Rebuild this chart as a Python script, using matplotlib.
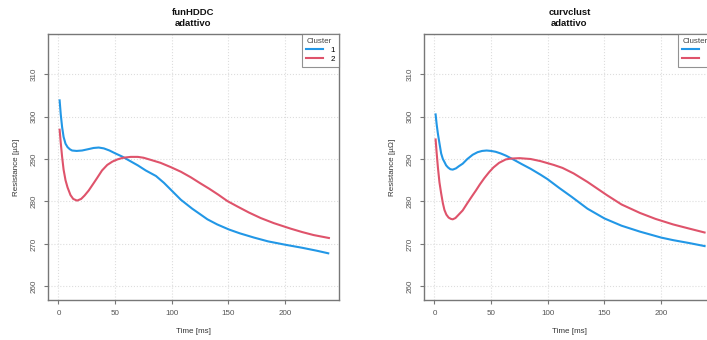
import numpy as np
from matplotlib import pyplot as plt

plt.rcParams['font.family'] = ['Liberation Sans', 'DejaVu Sans']

# funHDDC - adattivo
fh_x1 = [1, 2, 3.2, 4.5, 6.2, 8, 10, 12, 16, 20.8, 26, 31, 35.5, 40, 45, 50.3, 56, 62,
         70, 77, 86, 93, 100.5, 108, 118, 125, 131.4, 140, 150.4, 160, 172.5, 185,
         200.4, 215, 228, 238]
fh_y1 = [303.8, 300.5, 297.5, 295.2, 293.6, 292.8, 292.3, 292.0, 291.9, 292.0, 292.3,
         292.6, 292.7, 292.5, 292.0, 291.3, 290.6, 289.7, 288.5, 287.3, 286.0, 284.4,
         282.4, 280.4, 278.3, 277.0, 275.8, 274.6, 273.4, 272.5, 271.5, 270.6, 269.8,
         269.1, 268.4, 267.8]
fh_x2 = [1, 2, 3.2, 4.5, 6.2, 8, 10.6, 13, 16.4, 20, 23, 26.7, 31, 34, 38.4, 43, 47.6,
         52, 57, 63.8, 70, 75, 81.4, 90, 99, 108, 116.7, 125, 133, 141, 149, 158, 168,
         178.4, 190, 204.9, 215, 225, 238.6]
fh_y2 = [296.9, 293.8, 290.5, 287.5, 285.0, 283.3, 281.5, 280.6, 280.2, 280.6, 281.4,
         282.6, 284.3, 285.5, 287.3, 288.6, 289.4, 289.9, 290.3, 290.5, 290.5, 290.3,
         289.8, 289.1, 288.1, 287.0, 285.7, 284.3, 283.0, 281.6, 280.1, 278.8, 277.4,
         276.1, 274.9, 273.6, 272.8, 272.1, 271.4]

# curvclust - adattivo
cc_x1 = [1, 2, 3, 4.4, 5.9, 7.4, 8.8, 10.3, 12, 14, 16.1, 19, 21.5, 24.9, 29, 33.7, 38,
         42, 46, 50, 54, 58.5, 63, 70.2, 77, 84.8, 93.6, 99.5, 110, 121, 135, 150, 165,
         181.3, 200, 210.5, 225, 238.3]
cc_y1 = [300.5, 298.0, 296.0, 293.7, 291.3, 290.0, 289.3, 288.5, 288.0, 287.6, 287.5,
         287.8, 288.3, 288.9, 290.0, 291.0, 291.6, 291.9, 292.0, 291.9, 291.7, 291.3,
         290.8, 289.8, 288.8, 287.7, 286.3, 285.3, 283.2, 281.1, 278.3, 276.0, 274.3,
         272.9, 271.5, 270.9, 270.2, 269.5]
cc_x2 = [1, 2, 3, 4.4, 5.9, 7.4, 8.8, 10.5, 12.5, 14.5, 16.1, 18.5, 21, 24.9, 29, 33,
         36.6, 40, 44, 48.2, 52, 57, 62.9, 67.3, 75, 84.8, 93.6, 105.3, 113, 122.8, 135,
         152.1, 165, 181.3, 195, 210.5, 225, 238.3]
cc_y2 = [294.6, 291.2, 288.1, 284.5, 281.9, 279.6, 278.0, 276.9, 276.2, 275.9, 275.8,
         276.1, 276.8, 277.9, 279.6, 281.2, 282.6, 284.0, 285.5, 286.9, 288.0, 289.1,
         289.9, 290.1, 290.2, 290.0, 289.5, 288.6, 287.9, 286.6, 284.6, 281.5, 279.3,
         277.3, 275.9, 274.6, 273.6, 272.7]

titles = ['funHDDC\nadattivo', 'curvclust\nadattivo']
cluster_labels = ['1', '2']
colori = ['#2297E6', '#DF536B']
xticks = [0, 50, 100, 150, 200]
yticks = [260, 270, 280, 290, 300, 310]

fig = plt.figure(figsize=(7.07, 3.4), dpi=100)
ax1 = fig.add_axes([0.0675, 0.1176, 0.412, 0.782])
ax2 = fig.add_axes([0.5993, 0.1176, 0.412, 0.782])

pannelli = [(ax1, fh_x1, fh_y1, fh_x2, fh_y2), (ax2, cc_x1, cc_y1, cc_x2, cc_y2)]

for (ax, x1, y1, x2, y2), tit in zip(pannelli, titles):
    ax.plot(x1, y1, color=colori[0], lw=1.5, label=cluster_labels[0])
    ax.plot(x2, y2, color=colori[1], lw=1.5, label=cluster_labels[1])
    ax.set_xlim(-9.5, 247.5)
    ax.set_ylim(256.8, 319.4)
    ax.set_xticks(xticks)
    ax.set_yticks(yticks)
    ax.grid(True, color='#dddddd', linestyle=':', linewidth=0.8)
    ax.set_axisbelow(True)
    ax.tick_params(axis='both', direction='out', length=3, width=0.8, color='#777777',
                   labelsize=5.8, labelcolor='#555555', pad=4)
    for lab in ax.get_yticklabels():
        lab.set_rotation(90)
        lab.set_va('center')
    for s in ['top', 'bottom', 'left', 'right']:
        ax.spines[s].set_color('#777777')
        ax.spines[s].set_linewidth(1)
    ax.set_xlabel('Time [ms]', fontsize=5.8, color='#333333', labelpad=8)
    ax.set_ylabel('Resistance [µΩ]', fontsize=5.8, color='#333333', labelpad=8)
    ax.set_title(tit, fontsize=6.8, fontweight='bold', color='#111111', pad=6,
                 linespacing=1.25)
    leg = ax.legend(title='Cluster', loc='upper right', fontsize=5.8, title_fontsize=5.8,
                    frameon=True, fancybox=False, borderaxespad=0, handlelength=2.1,
                    labelspacing=0.15, borderpad=0.5, handletextpad=0.9,
                    alignment='left')
    leg.get_frame().set_edgecolor('#777777')
    leg.get_frame().set_linewidth(0.8)
    leg.get_title().set_color('#444444')

plt.savefig('out.png', dpi=100)
